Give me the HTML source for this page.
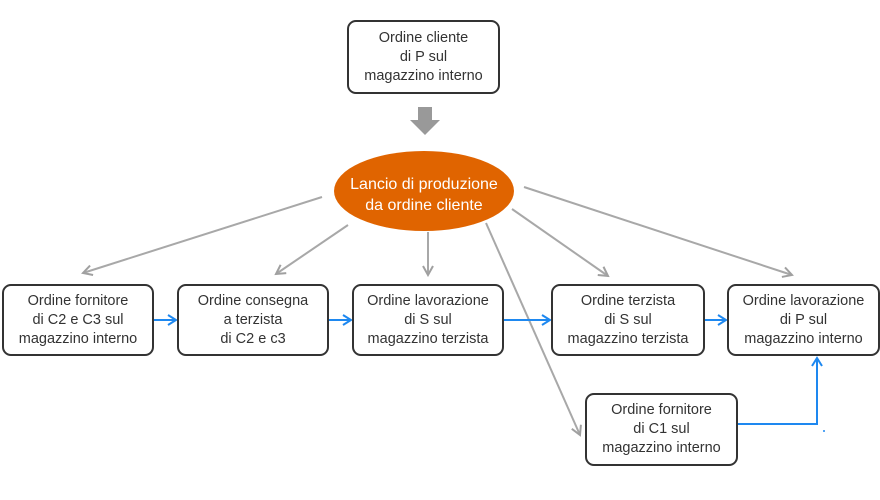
<!DOCTYPE html>
<html><head><meta charset="utf-8"><style>
body{margin:0;background:#fff;width:880px;height:500px;overflow:hidden;position:relative;font-family:"Liberation Sans",sans-serif}
.b{position:absolute;box-sizing:border-box;border:2px solid #333;border-radius:9px;background:#fff;color:#333;font-size:14.5px;line-height:19px;text-align:center;display:flex;align-items:center;justify-content:center}
svg{position:absolute;left:0;top:0}
</style></head><body>
<svg width="880" height="500">
<defs>
<marker id="g" markerWidth="12" markerHeight="12" refX="10" refY="6" orient="auto" markerUnits="userSpaceOnUse"><path d="M1,1 L10,6 L1,11" fill="none" stroke="#a0a0a0" stroke-width="2"/></marker>
<marker id="bl" markerWidth="12" markerHeight="12" refX="10" refY="6" orient="auto" markerUnits="userSpaceOnUse"><path d="M2,1 L10,6 L2,11" fill="none" stroke="#1e88f0" stroke-width="2"/></marker>
</defs>
<g stroke="#a8a8a8" stroke-width="2" fill="none" marker-end="url(#g)">
<line x1="322" y1="197" x2="83" y2="273"/>
<line x1="348" y1="225" x2="276" y2="274"/>
<line x1="428" y1="232" x2="428" y2="275"/>
<line x1="486" y1="223" x2="580" y2="435"/>
<line x1="512" y1="209" x2="608" y2="276"/>
<line x1="524" y1="187" x2="792" y2="275"/>
</g>
<g stroke="#1e88f0" stroke-width="2" fill="none" marker-end="url(#bl)">
<line x1="153" y1="320" x2="176" y2="320"/>
<line x1="328" y1="320" x2="351" y2="320"/>
<line x1="504" y1="320" x2="550" y2="320"/>
<line x1="704" y1="320" x2="726" y2="320"/>
<polyline points="737,424 817,424 817,358"/>
</g>
<circle cx="824" cy="431" r="1" fill="#1e88f0"/>
<path d="M418,107 H432 V120 H440 L425,135 L410,120 H418 Z" fill="#999"/>
<ellipse cx="424" cy="191" rx="90" ry="40" fill="#e06400"/>
<text x="424" y="189" text-anchor="middle" fill="#fff" font-size="16" font-family="Liberation Sans">Lancio di produzione</text>
<text x="424" y="210" text-anchor="middle" fill="#fff" font-size="16" font-family="Liberation Sans">da ordine cliente</text>
</svg>
<div class="b" style="left:347px;top:20px;width:153px;height:74px">Ordine cliente<br>di P sul<br>magazzino interno</div>
<div class="b" style="left:2px;top:284px;width:152px;height:72px">Ordine fornitore<br>di C2 e C3 sul<br>magazzino interno</div>
<div class="b" style="left:177px;top:284px;width:152px;height:72px">Ordine consegna<br>a terzista<br>di C2 e c3</div>
<div class="b" style="left:352px;top:284px;width:152px;height:72px">Ordine lavorazione<br>di S sul<br>magazzino terzista</div>
<div class="b" style="left:551px;top:284px;width:154px;height:72px">Ordine terzista<br>di S sul<br>magazzino terzista</div>
<div class="b" style="left:727px;top:284px;width:153px;height:72px">Ordine lavorazione<br>di P sul<br>magazzino interno</div>
<div class="b" style="left:585px;top:393px;width:153px;height:73px">Ordine fornitore<br>di C1 sul<br>magazzino interno</div>
</body></html>
